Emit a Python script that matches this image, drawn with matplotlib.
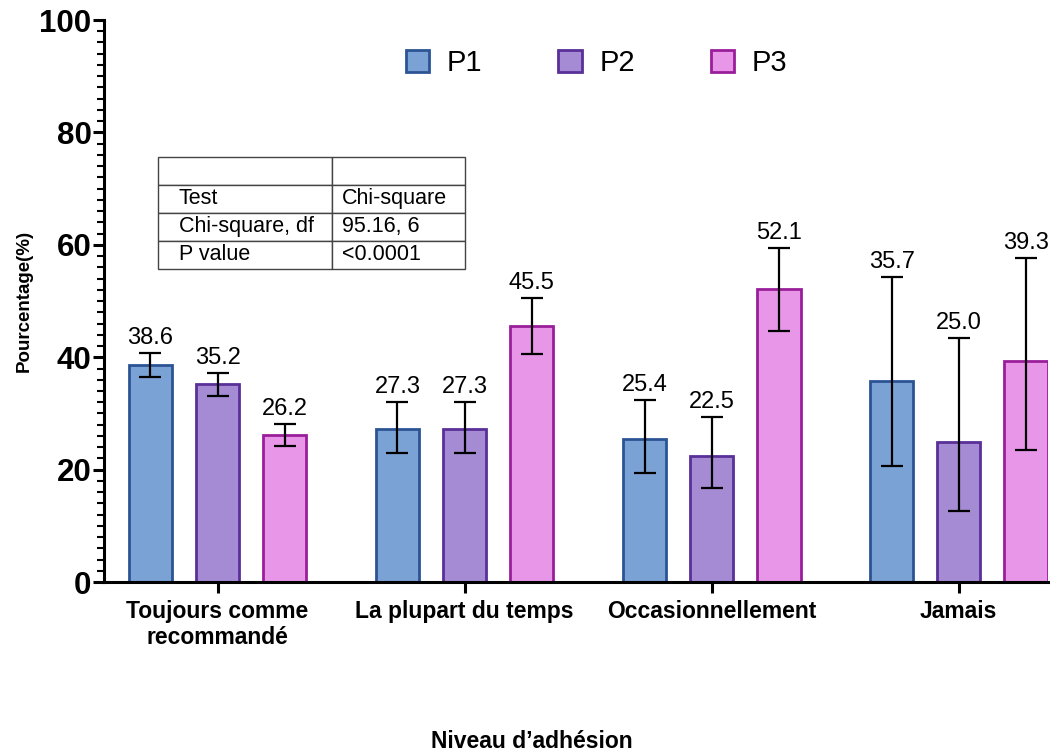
import numpy as np
import matplotlib.pyplot as plt
from matplotlib.ticker import MultipleLocator
from matplotlib.patches import Patch

plt.rcParams['font.family'] = ['Liberation Sans', 'DejaVu Sans']

categories = ['Toujours comme\nrecommandé', 'La plupart du temps', 'Occasionnellement', 'Jamais']
series = ['P1', 'P2', 'P3']
p1 = [38.6, 27.3, 25.4, 35.7]
p2 = [35.2, 27.3, 22.5, 25.0]
p3 = [26.2, 45.5, 52.1, 39.3]
p1_low = [36.5, 23.0, 19.4, 20.6]
p1_high = [40.7, 32.0, 32.4, 54.3]
p2_low = [33.1, 23.0, 16.7, 12.6]
p2_high = [37.2, 32.0, 29.4, 43.4]
p3_low = [24.2, 40.6, 44.7, 23.5]
p3_high = [28.1, 50.5, 59.4, 57.7]

table_rows = [['', ''], ['Test', 'Chi-square'], ['Chi-square, df', '95.16, 6'], ['P value', '<0.0001']]

fills = ['#7BA2D5', '#A58BD3', '#E897E8']
edges = ['#2C5494', '#5A2F98', '#9A1E9A']

fig = plt.figure(figsize=(10.64, 7.55), dpi=100)
ax = fig.add_axes([0.0977, 0.229, 0.887, 0.7445])

x = np.arange(len(categories))
offset = 0.272
width = 0.175
values = [p1, p2, p3]
lows = [p1_low, p2_low, p3_low]
highs = [p1_high, p2_high, p3_high]

for i, name in enumerate(series):
    xs = x + (i - 1) * offset
    v = np.array(values[i])
    lo = v - np.array(lows[i])
    hi = np.array(highs[i]) - v
    ax.bar(xs, v, width, color=fills[i], edgecolor=edges[i], linewidth=2, zorder=2)
    ax.errorbar(xs, v, yerr=[lo, hi], fmt='none', ecolor='black', elinewidth=1.6,
                capsize=8, capthick=1.6, zorder=3)
    for xi, vi, top in zip(xs, v, highs[i]):
        ax.annotate(f'{vi:.1f}', (xi, top), xytext=(0, 3), textcoords='offset points',
                    ha='center', va='bottom', fontsize=17)

ax.set_xlim(-0.46, 3.36)
ax.set_ylim(0, 100)
ax.yaxis.set_major_locator(MultipleLocator(20))
ax.yaxis.set_minor_locator(MultipleLocator(2))
ax.set_xticks(x)
ax.set_xticklabels(categories, fontsize=16.5, fontweight='bold', linespacing=1.15)
for lab in ax.get_yticklabels():
    lab.set_fontsize(22.5)
    lab.set_fontweight('bold')
ax.tick_params(axis='y', which='major', length=8, width=2.2, pad=1)
ax.tick_params(axis='y', which='minor', length=5, width=1.5)
ax.tick_params(axis='x', which='major', length=8, width=2.2, pad=5)
for s in ['top', 'right']:
    ax.spines[s].set_visible(False)
for s in ['left', 'bottom']:
    ax.spines[s].set_linewidth(2.2)

ax.set_ylabel('Pourcentage(%)', fontsize=13.5, fontweight='bold', labelpad=5)
fig.text(0.5, 0.003, 'Niveau d\u2019adhésion', ha='center', va='bottom',
         fontsize=16.5, fontweight='bold')

handles = [Patch(facecolor=fills[i], edgecolor=edges[i], linewidth=2) for i in range(3)]
ax.legend(handles, series, loc='center', bbox_to_anchor=(0.522, 0.923), ncol=3,
          frameon=False, fontsize=21, handlelength=0.8, handleheight=0.8,
          columnspacing=2.6, handletextpad=0.6)

tbl = ax.table(cellText=table_rows, cellLoc='left', colWidths=[0.184, 0.141],
               bbox=[0.0572, 0.5573, 0.3252, 0.1993])
tbl.auto_set_font_size(False)
tbl.set_fontsize(15.5)
for (r, c), cell in tbl.get_celld().items():
    cell.set_linewidth(1.0)
    cell.set_edgecolor('#444444')
    cell.PAD = 0.12 if c == 0 else 0.08

fig.savefig('out.png', dpi=100)
